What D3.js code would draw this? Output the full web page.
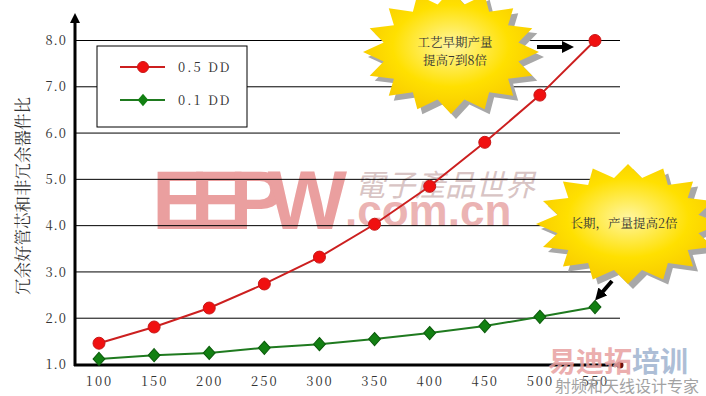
<!DOCTYPE html>
<html>
<head>
<meta charset="utf-8">
<script src="https://cdn.jsdelivr.net/npm/d3@7"></script>
<style>
  body { margin: 0; background: #fff; }
  svg { display: block; }
</style>
</head>
<body>
<svg id="chart" width="706" height="396"></svg>
<script>
// chart data
const xValues = [100, 150, 200, 250, 300, 350, 400, 450, 500, 550];
const series05 = [1.46, 1.81, 2.22, 2.74, 3.32, 4.03, 4.85, 5.80, 6.82, 8.0];
const series01 = [1.12, 1.20, 1.25, 1.36, 1.44, 1.55, 1.68, 1.83, 2.03, 2.24];
const yTicks = [1, 2, 3, 4, 5, 6, 7, 8];
const seriesNames = ["0.5 DD", "0.1 DD"];
const yTitle = "冗余好管芯和非冗余器件比";
const note1 = ["工艺早期产量", "提高7到8倍"];
const note2 = "长期，产量提高2倍";

const svg = d3.select("#chart");
const serif = "'Noto Serif CJK SC', 'Liberation Serif', 'DejaVu Serif', serif";

// scales
const x = d3.scaleLinear().domain([100, 550]).range([99, 595]);
const y = d3.scaleLinear().domain([1, 8]).range([364.5, 40.5]);

// watermarks behind everything
const wm = svg.append("g").attr("class", "watermark");
wm.append("text").attr("x", 152).attr("y", 229).text("EEPW")
  .attr("font-family", "Liberation Sans, Arial, sans-serif").attr("font-weight", 700)
  .attr("font-size", 84).attr("fill", "#ea9f9f").attr("textLength", 195);
wm.append("text").attr("x", 345).attr("y", 226).text(".com.cn")
  .attr("font-family", "Liberation Sans, Arial, sans-serif").attr("font-weight", 700)
  .attr("font-size", 44).attr("fill", "#ebb3b3");
wm.append("text").attr("x", 355).attr("y", 196).text("電子產品世界")
  .attr("font-family", "'Noto Sans CJK TC', sans-serif").attr("font-size", 30)
  .attr("fill", "#d8c4c4").attr("font-style", "italic");

// gridlines
svg.append("g")
  .selectAll("line")
  .data(yTicks.slice(1))
  .enter().append("line")
  .attr("x1", 75).attr("x2", 620)
  .attr("y1", d => y(d)).attr("y2", d => y(d))
  .attr("stroke", "#000").attr("stroke-width", 1);

// y axis
const yAxis = d3.axisLeft(y).tickValues(yTicks).tickFormat(d3.format(".1f")).tickSize(0).tickPadding(8);
const gy = svg.append("g").attr("transform", "translate(75,0)").call(yAxis);
gy.select(".domain").remove();
gy.selectAll("text").attr("font-family", serif).attr("font-size", 13).attr("fill", "#333")
  .attr("letter-spacing", "1px");
svg.append("line").attr("x1", 75).attr("x2", 75).attr("y1", 20).attr("y2", 366)
  .attr("stroke", "#000").attr("stroke-width", 3);
svg.append("path").attr("d", "M75,13 L70,23 L80,23 Z").attr("fill", "#000");

// x axis
const xAxis = d3.axisBottom(x).tickValues(xValues).tickSize(0).tickPadding(12);
const gx = svg.append("g").attr("transform", "translate(0,365)").call(xAxis);
gx.select(".domain").remove();
gx.selectAll("text").attr("font-family", serif).attr("font-size", 13).attr("fill", "#333")
  .attr("letter-spacing", "2px");
svg.append("line").attr("x1", 74).attr("x2", 620).attr("y1", 365).attr("y2", 365)
  .attr("stroke", "#000").attr("stroke-width", 3);
svg.append("circle").attr("cx", 620).attr("cy", 365).attr("r", 3.5).attr("fill", "#6a1010");

// y title
svg.append("text")
  .attr("transform", "translate(29,196) rotate(-90)")
  .attr("text-anchor", "middle")
  .attr("font-family", serif).attr("font-size", 16.5).attr("fill", "#333")
  .text(yTitle);

// lines
const line = d3.line().x((d, i) => x(xValues[i])).y(d => y(d));
svg.append("path").datum(series05).attr("d", line)
  .attr("fill", "none").attr("stroke", "#cc1f1f").attr("stroke-width", 2);
svg.append("path").datum(series01).attr("d", line)
  .attr("fill", "none").attr("stroke", "#1f7a1f").attr("stroke-width", 2);

svg.append("g").selectAll("circle").data(series05).enter().append("circle")
  .attr("cx", (d, i) => x(xValues[i])).attr("cy", d => y(d)).attr("r", 6)
  .attr("fill", "#f01010").attr("stroke", "#c81818").attr("stroke-width", 1);

const diamond = d3.symbol().type(d3.symbolDiamond).size(50);
svg.append("g").selectAll("path").data(series01).enter().append("path")
  .attr("d", diamond)
  .attr("transform", (d, i) => `translate(${x(xValues[i])},${y(d)}) scale(1.55,1)`)
  .attr("fill", "#128012").attr("stroke", "#0c5c0c").attr("stroke-width", 0.8);

// legend
const lg = svg.append("g");
lg.append("rect").attr("x", 97).attr("y", 46).attr("width", 150).attr("height", 81)
  .attr("fill", "#fff").attr("stroke", "#000").attr("stroke-width", 1);
const legendRows = [
  { name: seriesNames[0], color: "#cc1f1f", y: 67 },
  { name: seriesNames[1], color: "#1f7a1f", y: 100 }
];
legendRows.forEach((r, i) => {
  lg.append("line").attr("x1", 120).attr("x2", 165).attr("y1", r.y).attr("y2", r.y)
    .attr("stroke", r.color).attr("stroke-width", 2);
  if (i === 0) {
    lg.append("circle").attr("cx", 143).attr("cy", r.y).attr("r", 5.5)
      .attr("fill", "#f01010").attr("stroke", "#c81818");
  } else {
    lg.append("path").attr("d", diamond)
      .attr("transform", `translate(143,${r.y}) scale(1.4,0.95)`).attr("fill", "#128012");
  }
  lg.append("text").attr("x", 178).attr("y", r.y + 5).text(r.name)
    .attr("font-family", serif).attr("font-size", 13).attr("fill", "#333")
    .attr("letter-spacing", "2px");
});

// starburst callouts
const defs = svg.append("defs");
const grad = defs.append("radialGradient").attr("id", "burst").attr("cx", "50%").attr("cy", "45%").attr("r", "60%");
grad.append("stop").attr("offset", "0%").attr("stop-color", "#fff6a0");
grad.append("stop").attr("offset", "55%").attr("stop-color", "#ffe000");
grad.append("stop").attr("offset", "100%").attr("stop-color", "#f5c400");

function burst(cx, cy, rx, ry, n, inner) {
  const pts = [];
  for (let i = 0; i < n * 2; i++) {
    const a = -Math.PI / 2 + i * Math.PI / n;
    const k = i % 2 === 0 ? 1 : inner;
    pts.push([cx + Math.cos(a) * rx * k, cy + Math.sin(a) * ry * k]);
  }
  return "M" + pts.map(p => p.join(",")).join("L") + "Z";
}

function callout(cx, cy, rx, ry) {
  svg.append("path").attr("d", burst(cx + 5, cy + 5, rx, ry, 16, 0.78)).attr("fill", "#a8a8a8");
  svg.append("path").attr("d", burst(cx, cy, rx, ry, 16, 0.78)).attr("fill", "url(#burst)");
}

callout(451, 52, 88, 62);
svg.append("text").attr("x", 455).attr("y", 47).attr("text-anchor", "middle")
  .attr("font-family", serif).attr("font-size", 12.5).attr("fill", "#333").text(note1[0]);
svg.append("text").attr("x", 455).attr("y", 65).attr("text-anchor", "middle")
  .attr("font-family", serif).attr("font-size", 12.5).attr("fill", "#333").text(note1[1]);

callout(628, 224, 92, 60);
svg.append("text").attr("x", 624).attr("y", 228).attr("text-anchor", "middle")
  .attr("font-family", serif).attr("font-size", 12.5).attr("fill", "#333").text(note2);

// arrows
defs.append("marker").attr("id", "head").attr("viewBox", "0 0 10 10").attr("refX", 5).attr("refY", 5)
  .attr("markerWidth", 3).attr("markerHeight", 3).attr("orient", "auto")
  .append("path").attr("d", "M0,0 L10,5 L0,10 Z").attr("fill", "#000");
svg.append("line").attr("x1", 537).attr("y1", 47).attr("x2", 568).attr("y2", 47)
  .attr("stroke", "#000").attr("stroke-width", 4).attr("marker-end", "url(#head)");
svg.append("line").attr("x1", 612).attr("y1", 281).attr("x2", 599).attr("y2", 296)
  .attr("stroke", "#000").attr("stroke-width", 4).attr("marker-end", "url(#head)");

// bottom-right watermark
const wm2 = svg.append("g");
wm2.append("text").attr("x", 548).attr("y", 372).text("易迪拓")
  .attr("font-family", "'Noto Sans CJK SC', sans-serif").attr("font-weight", 700)
  .attr("font-size", 28).attr("fill", "#e8a0a0").attr("opacity", 0.85);
wm2.append("text").attr("x", 632).attr("y", 372).text("培训")
  .attr("font-family", "'Noto Sans CJK SC', sans-serif").attr("font-weight", 700)
  .attr("font-size", 28).attr("fill", "#9fb3d0").attr("opacity", 0.85);
wm2.append("text").attr("x", 555).attr("y", 392).text("射频和天线设计专家")
  .attr("font-family", "'Noto Sans CJK SC', sans-serif")
  .attr("font-size", 16).attr("fill", "#999").attr("opacity", 0.9);
</script>
</body>
</html>
